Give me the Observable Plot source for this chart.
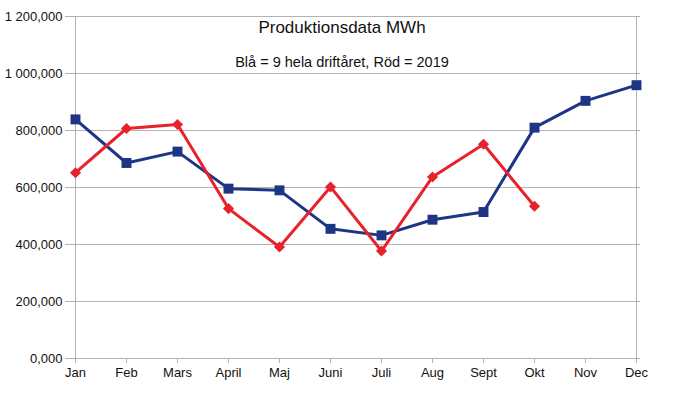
<!DOCTYPE html>
<html>
<head>
<meta charset="utf-8">
<script src="https://cdn.jsdelivr.net/npm/d3@7"></script>
<script src="https://cdn.jsdelivr.net/npm/@observablehq/plot@0.6"></script>
<style>
  html, body { margin: 0; padding: 0; background: #fff; overflow: hidden; }
  #chart svg { display: block; font-family: "Liberation Sans", Arial, sans-serif; }
</style>
</head>
<body>
<div id="chart"></div>
<script>
const months = ["Jan","Feb","Mars","April","Maj","Juni","Juli","Aug","Sept","Okt","Nov","Dec"];
const blueValues = [839, 686, 726, 596, 590, 455, 432, 487, 514, 810, 904, 959];
const redMonths = ["Jan","Feb","Mars","April","Maj","Juni","Juli","Aug","Sept","Okt"];
const redValues = [652, 807, 821, 526, 391, 602, 377, 637, 752, 534];
const yTicks = [0, 200, 400, 600, 800, 1000, 1200];
const titleText = "Produktionsdata MWh";
const subtitleText = "Blå = 9 hela driftåret, Röd = 2019";

const blue = months.map((m, i) => ({month: m, value: blueValues[i]}));
const red = redMonths.map((m, i) => ({month: m, value: redValues[i]}));

const sv = d3.formatLocale({decimal: ",", thousands: " ", grouping: [3], currency: ["", ""]});
const fmt = sv.format(",.3f");

const blueColor = "#1d3584";
const redColor = "#e8222b";
const gridColor = "#b3b3b3";

const chart = Plot.plot({
  width: 683,
  height: 394,
  marginLeft: 70,
  marginRight: 43,
  marginTop: 16,
  marginBottom: 36,
  style: {fontFamily: "Liberation Sans, Arial, sans-serif", fontSize: "13px", color: "#111", background: "#fff"},
  x: {type: "point", domain: months, padding: 0, range: [70, 640], label: null},
  y: {domain: [0, 1200], label: null},
  marks: [
    Plot.gridY(yTicks, {stroke: gridColor, strokeOpacity: 1, strokeWidth: 1}),
    Plot.ruleX([months[0], months[months.length - 1]], {stroke: gridColor, strokeWidth: 1}),
    Plot.axisY(yTicks, {tickFormat: fmt, tickSize: 5, tickPadding: 3, stroke: gridColor, fontSize: 13, fill: "#111", label: null}),
    Plot.axisX({tickSize: 5, tickPadding: 4, stroke: gridColor, fontSize: 13, fill: "#111", label: null}),
    Plot.line(blue, {x: "month", y: "value", stroke: blueColor, strokeWidth: 3}),
    Plot.dot(blue, {x: "month", y: "value", symbol: "square", r: 5.6, fill: blueColor, stroke: "none"}),
    Plot.line(red, {x: "month", y: "value", stroke: redColor, strokeWidth: 3}),
    Plot.dot(red, {x: "month", y: "value", symbol: "diamond2", r: 5, fill: redColor, stroke: "none"}),
    Plot.text([titleText], {frameAnchor: "top", dy: 11, dx: -13.5, text: d => d, fontSize: 17, fill: "#111", lineAnchor: "middle"}),
    Plot.text([subtitleText], {frameAnchor: "top", dy: 46, dx: -13.5, text: d => d, fontSize: 14.5, fill: "#111", lineAnchor: "middle"})
  ]
});
document.getElementById("chart").appendChild(chart);
</script>
</body>
</html>
